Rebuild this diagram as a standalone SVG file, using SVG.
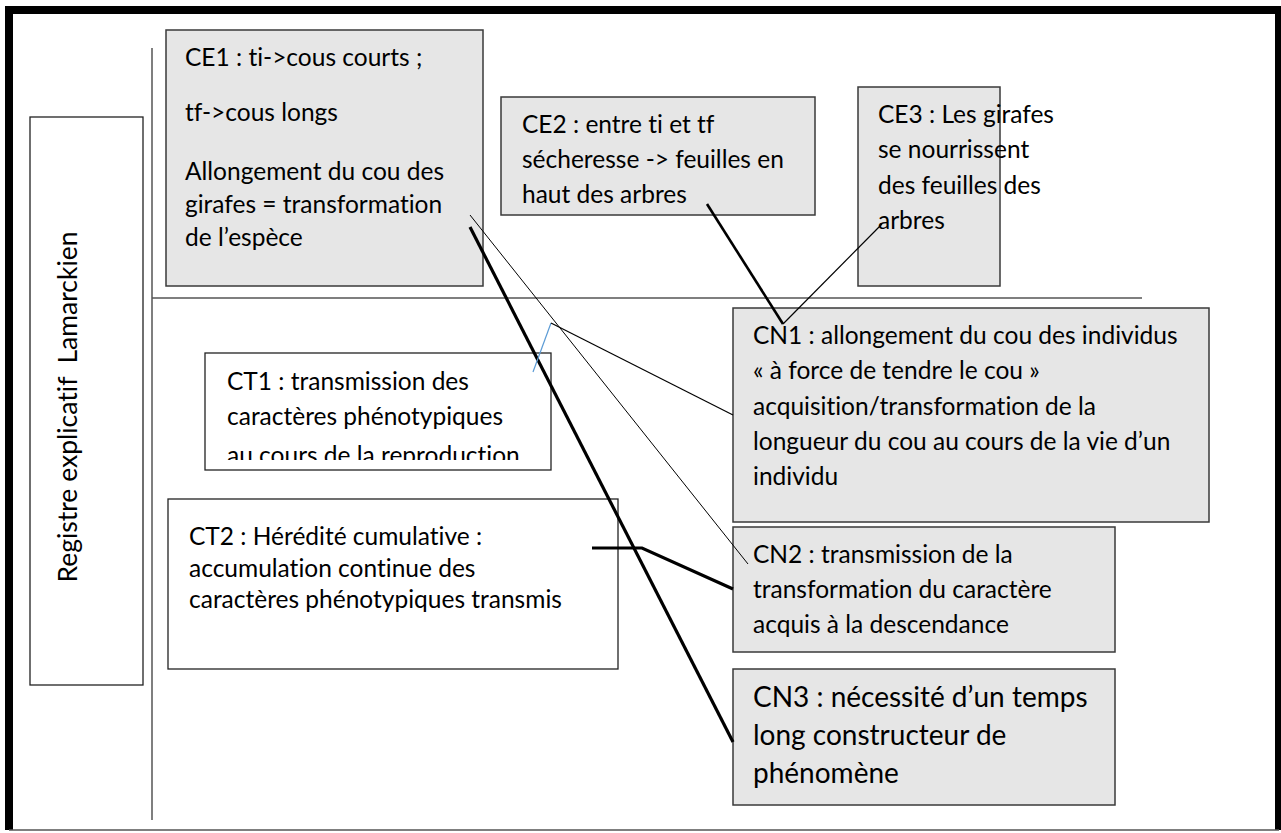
<svg xmlns="http://www.w3.org/2000/svg" width="1281" height="833" viewBox="0 0 1281 833">
<style>
.t{font-family:Lato,"Open Sans","Liberation Sans",sans-serif;font-size:24.5px;fill:#000;font-variant-ligatures:none}
.big{font-size:28px}
.g{fill:#e6e6e6;stroke:#3a3a3a;stroke-width:1.5}
.w{fill:#fff;stroke:#222;stroke-width:1.3}
.c{fill:none;stroke:#000;stroke-linecap:butt;stroke-linejoin:miter}
</style>
<defs>
<clipPath id="ct1clip"><rect x="205" y="353" width="346" height="107"/></clipPath>
</defs>
<rect x="0" y="0" width="1281" height="833" fill="#fff"/>
<g id="frame">
<path d="M9 830 V10 H1279 V830" fill="none" stroke="#000" stroke-width="8"/>
<line x1="9" y1="830" x2="1279" y2="830" stroke="#555" stroke-width="1.5"/>
<line x1="152" y1="48" x2="152" y2="820" stroke="#555" stroke-width="1.5"/>
<line x1="152" y1="298" x2="1142" y2="298" stroke="#555" stroke-width="1.5"/>
</g>
<g id="label">
<rect class="w" x="30" y="117" width="113" height="568" stroke="#444"/>
<text class="t" style="font-size:26.5px" transform="translate(77,407) rotate(-90)" text-anchor="middle" xml:space="preserve">Registre explicatif  Lamarckien</text>
</g>
<g id="CE1">
<rect class="g" x="166" y="30" width="317" height="256"/>
<text class="t" x="185" y="66">CE1 : ti-&gt;cous courts ;</text>
<text class="t" x="185" y="121">tf-&gt;cous longs</text>
<text class="t" x="185" y="180">Allongement du cou des</text>
<text class="t" x="185" y="213">girafes = transformation</text>
<text class="t" x="185" y="246">de l’espèce</text>
</g>
<g id="CE2">
<rect class="g" x="501" y="97" width="314" height="118"/>
<text class="t" x="522" y="133">CE2 : entre ti et tf</text>
<text class="t" x="522" y="168">sécheresse -&gt; feuilles en</text>
<text class="t" x="522" y="203">haut des arbres</text>
</g>
<g id="CE3">
<rect class="g" x="858" y="87" width="142" height="199"/>
<text class="t" x="878" y="123">CE3 : Les girafes</text>
<text class="t" x="878" y="158">se nourrissent</text>
<text class="t" x="878" y="194">des feuilles des</text>
<text class="t" x="878" y="229">arbres</text>
</g>
<g id="CN1">
<rect class="g" x="733" y="308" width="476" height="214"/>
<text class="t" x="753" y="344">CN1 : allongement du cou des individus</text>
<text class="t" x="753" y="379">« à force de tendre le cou »</text>
<text class="t" x="753" y="415">acquisition/transformation de la</text>
<text class="t" x="753" y="450">longueur du cou au cours de la vie d’un</text>
<text class="t" x="753" y="485">individu</text>
</g>
<g id="CT1">
<rect class="w" x="205" y="353" width="346" height="117"/>
<g clip-path="url(#ct1clip)">
<text class="t" x="227" y="390">CT1 : transmission des</text>
<text class="t" x="227" y="425">caractères phénotypiques</text>
<text class="t" x="227" y="464">au cours de la reproduction</text>
</g>
</g>
<g id="CT2">
<rect class="w" x="168" y="499" width="450" height="170"/>
<text class="t" x="189" y="545">CT2 : Hérédité cumulative :</text>
<text class="t" x="189" y="577">accumulation continue des</text>
<text class="t" x="189" y="608">caractères phénotypiques transmis</text>
</g>
<g id="CN2">
<rect class="g" x="733" y="527" width="382" height="125"/>
<text class="t" x="753" y="563">CN2 : transmission de la</text>
<text class="t" x="753" y="598">transformation du caractère</text>
<text class="t" x="753" y="633">acquis à la descendance</text>
</g>
<g id="CN3">
<rect class="g" x="733" y="669" width="382" height="136"/>
<text class="t big" x="753" y="707">CN3 : nécessité d’un temps</text>
<text class="t big" x="753" y="745">long constructeur de</text>
<text class="t big" x="753" y="783">phénomène</text>
</g>
<g id="connectors">
<line class="c" x1="470" y1="227" x2="733" y2="742" stroke-width="3.2"/>
<line class="c" x1="470" y1="215" x2="748" y2="564" stroke-width="1"/>
<line x1="533" y1="372" x2="551" y2="323" stroke="#5b9bd5" stroke-width="1.2"/>
<line class="c" x1="551" y1="323" x2="733" y2="415" stroke-width="1.2"/>
<line class="c" x1="707" y1="204" x2="783" y2="324" stroke-width="2.6"/>
<line class="c" x1="783" y1="324" x2="882" y2="224" stroke-width="1.2"/>
<polyline class="c" points="592,548 642,548 733,589" stroke-width="3.2"/>
</g>
</svg>
